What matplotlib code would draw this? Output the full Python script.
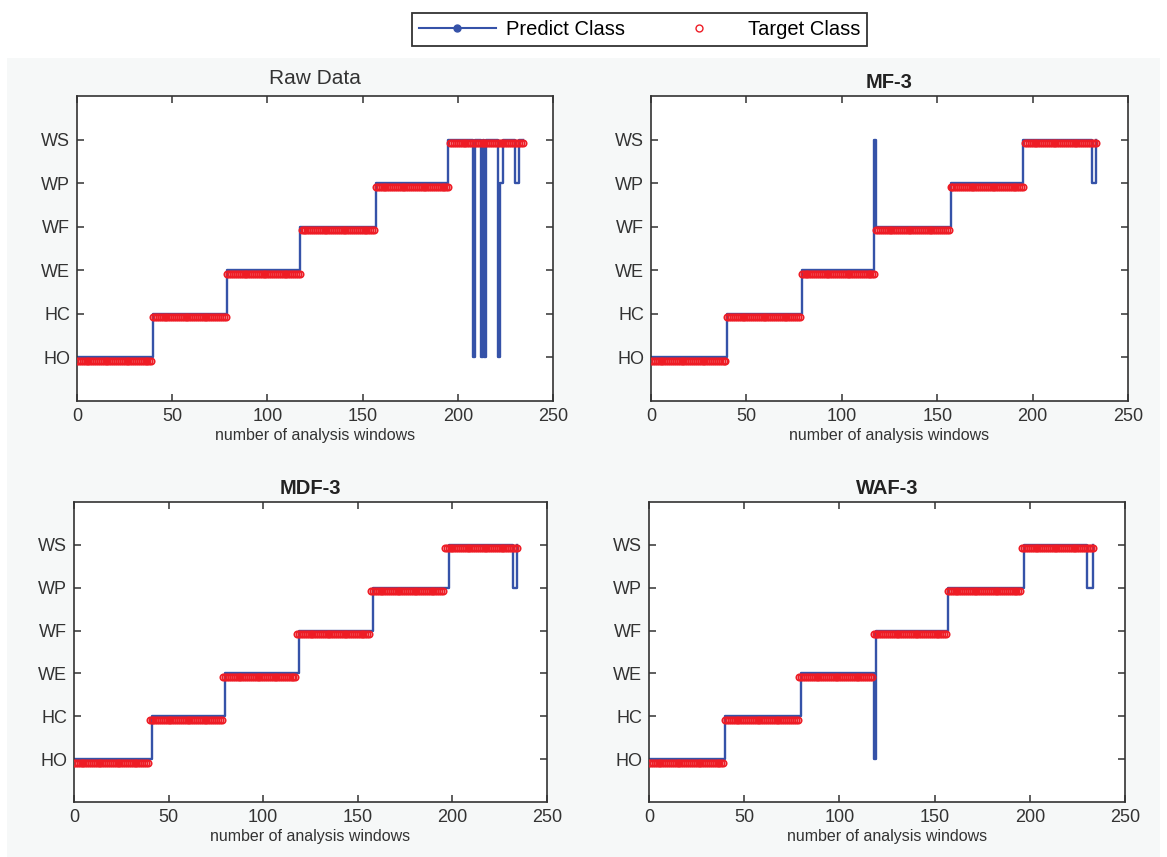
import numpy as np
import matplotlib
matplotlib.use("Agg")
from matplotlib import pyplot as plt
from matplotlib.lines import Line2D
from matplotlib.patches import Rectangle

plt.rcParams['font.family'] = ['Liberation Sans', 'DejaVu Sans']

class_names = ['HO', 'HC', 'WE', 'WF', 'WP', 'WS']
x_ticks = [0, 50, 100, 150, 200, 250]

# target classes (same for every panel): window where each class starts
target_starts = [0, 40, 79, 118, 157, 196]
target_classes = [1, 2, 3, 4, 5, 6]

# predicted classes, run-length: start window and class code
raw_starts = [0, 40, 79, 117, 157, 195, 208, 209, 212, 213, 214, 215, 221, 222, 224, 230, 232]
raw_classes = [1, 2, 3, 4, 5, 6, 1, 6, 1, 6, 1, 6, 1, 5, 6, 5, 6]
raw_n = 235

mf_starts = [0, 40, 79, 117, 118, 157, 195, 231, 233]
mf_classes = [1, 2, 3, 6, 4, 5, 6, 5, 6]
mf_n = 234

mdf_starts = [0, 41, 80, 119, 158, 198, 232, 234]
mdf_classes = [1, 2, 3, 4, 5, 6, 5, 6]
mdf_n = 235

waf_starts = [0, 40, 80, 118, 119, 157, 197, 230, 233]
waf_classes = [1, 2, 3, 1, 4, 5, 6, 5, 6]
waf_n = 234

titles = ['Raw Data', 'MF-3', 'MDF-3', 'WAF-3']


def expand(starts, classes, n):
    y = np.zeros(n)
    for i, s in enumerate(starts):
        e = starts[i + 1] if i + 1 < len(starts) else n
        y[s:e] = classes[i]
    return y


fig = plt.figure(figsize=(11.67, 8.57), dpi=100)
fig.patch.set_facecolor('white')
fig.add_artist(Rectangle((0.006, 0), 0.988, 1 - 58 / 857, transform=fig.transFigure,
                         facecolor='#f6f8f8', edgecolor='none', zorder=-10))

W, H = 1167.0, 857.0
boxes = [(77, 96, 553, 401), (651, 96, 1128, 401),
         (74, 502, 547, 802), (649, 502, 1125, 802)]
panels = [(raw_starts, raw_classes, raw_n), (mf_starts, mf_classes, mf_n),
          (mdf_starts, mdf_classes, mdf_n), (waf_starts, waf_classes, waf_n)]

blue = '#3552a8'
red = '#ee1c25'
for k, (box, (ps, pc, n)) in enumerate(zip(boxes, panels)):
    l, t, r, b = box
    ax = fig.add_axes([l / W, 1 - b / H, (r - l) / W, (b - t) / H])
    ax.set_facecolor('white')
    x = np.arange(n)
    pred = expand(ps, pc, n)
    target = expand(target_starts, target_classes, n)
    ax.step(x, pred, where='post', color=blue, lw=1.7, zorder=2)
    ax.plot(x, target - 0.08, 'o', mfc='none', mec=red, ms=4.6, mew=1.2, zorder=3)
    ax.set_xlim(0, 250)
    ax.set_ylim(0, 7)
    ax.set_yticks(range(1, 7))
    ax.set_yticklabels(class_names)
    ax.set_xticks(x_ticks)
    ax.tick_params(direction='in', top=True, right=True, length=5, width=1.1,
                   labelsize=13, colors='#333333', labelcolor='#333333', pad=5)
    for sp in ax.spines.values():
        sp.set_color('#333333')
        sp.set_linewidth(1.2)
    ax.set_xlabel('number of analysis windows', fontsize=11.5, color='#333333', labelpad=2)
    if k == 0:
        ax.set_title(titles[k], fontsize=15, color='#333333', pad=9)
    else:
        ax.set_title(titles[k], fontsize=14.5, fontweight='bold', color='#222222', pad=6)

handles = [Line2D([], [], color=blue, lw=1.5, marker='.', ms=10),
           Line2D([], [], color='none', marker='o', mfc='none', mec=red, ms=5, mew=1)]
leg = fig.legend(handles, ['Predict Class', 'Target Class'], loc='upper center',
                 bbox_to_anchor=(0.548, 0.997), ncol=2, fontsize=14.5, frameon=True,
                 fancybox=False, edgecolor='black', handlelength=3.8, columnspacing=1.8,
                 borderpad=0.35, handletextpad=0.5)
leg.get_frame().set_linewidth(1.3)

fig.savefig('out.png', dpi=100, facecolor=fig.get_facecolor())
